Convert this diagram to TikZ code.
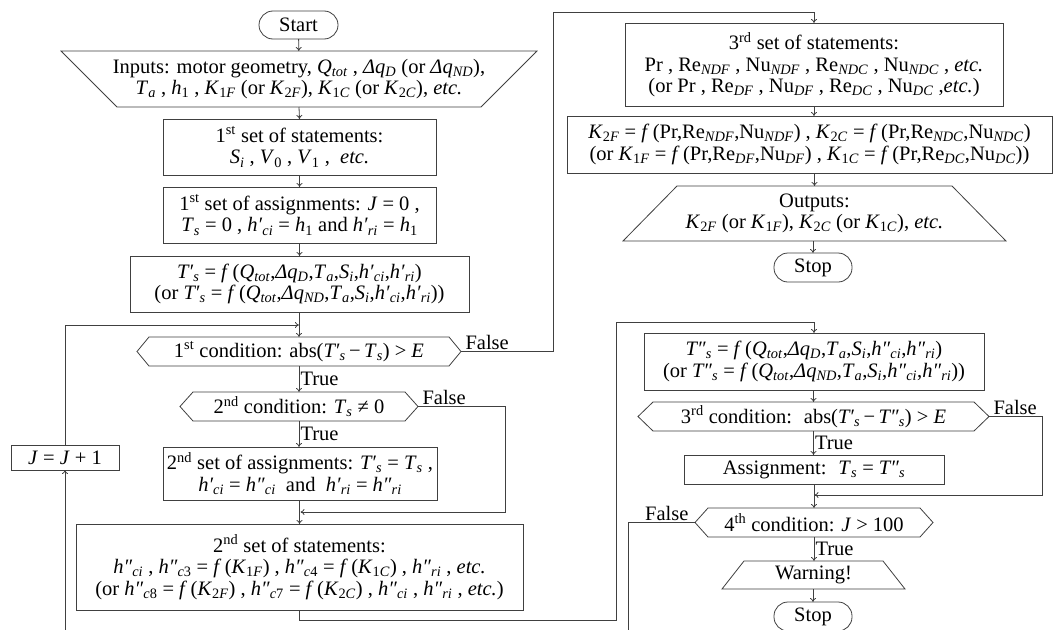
\documentclass[tikz,border=0pt]{standalone}
\usepackage{fontspec}
\setmainfont{Liberation Serif}
\usetikzlibrary{arrows.meta,calc}
\newcommand{\I}[1]{\textit{#1}}
\newcommand{\sub}[1]{\textsubscript{#1}}
\newcommand{\sups}[1]{\textsuperscript{#1}}
\newcommand{\drawhex}[2]{\draw[line] (#1.west) -- ($(#1.north west)+(#2,0)$) -- ($(#1.north east)+(-#2,0)$) -- (#1.east) -- ($(#1.south east)+(-#2,0)$) -- ($(#1.south west)+(#2,0)$) -- cycle;}
\newcommand{\drawinv}[2]{\draw[line] (#1.north west) -- (#1.north east) -- ($(#1.south east)+(-#2,0)$) -- ($(#1.south west)+(#2,0)$) -- cycle;}
\newcommand{\drawtrap}[2]{\draw[line] ($(#1.north west)+(#2,0)$) -- ($(#1.north east)+(-#2,0)$) -- (#1.south east) -- (#1.south west) -- cycle;}
\begin{document}
\begin{tikzpicture}[x=1pt,y=-1pt,
  line/.style={draw=black!75, line width=0.8pt},
  arr/.style={line, -{To[length=4pt,width=6pt]}},
  every node/.style={font=\fontsize{20.5}{21.5}\selectfont, inner sep=0pt, outer sep=0pt, align=center},
  pbox/.style={line, rectangle},
  term/.style={line, rectangle, rounded corners=14pt},
  free/.style={rectangle},
  lab/.style={inner sep=1.5pt}
]
\fill[white] (0,0) rectangle (1054,629);
\useasboundingbox (0,0) rectangle (1054,629);

% left column
\node[term, minimum width=79pt, minimum height=28pt] (start) at (298.5,25) {Start};
\node[free, minimum width=476pt, minimum height=56pt] (in) at (299,79)
  {Inputs: motor geometry, \I{Q}\sub{\I{tot}} , \I{Δq}\sub{\I{D}} (or \I{Δq}\sub{\I{ND}}),\\
   \I{T}\sub{\I{a}} , \I{h}\sub{1} , \I{K}\sub{1\I{F}} (or \I{K}\sub{2\I{F}}), \I{K}\sub{1\I{C}} (or \I{K}\sub{2\I{C}}), \I{etc.}};
\drawinv{in}{56}
\node[pbox, minimum width=273pt, minimum height=56pt] (s1) at (299.5,147)
  {1\sups{st} set of statements:\\ \I{S}\sub{\I{i}} , \I{V}\sub{0} , \I{V}\sub{1} , \ \I{etc.}};
\node[pbox, minimum width=273pt, minimum height=56pt] (a1) at (299.5,215)
  {1\sups{st} set of assignments: \I{J} = 0 ,\\ \I{T}\sub{\I{s}} = 0 , \I{h′}\sub{\I{ci}} = \I{h}\sub{1} and \I{h′}\sub{\I{ri}} = \I{h}\sub{1}};
\node[pbox, minimum width=339pt, minimum height=56pt] (tp) at (299.5,284)
  {\I{T′}\sub{\I{s}} = \I{f}\,(\I{Q}\sub{\I{tot}},\I{Δq}\sub{\I{D}},\I{T}\sub{\I{a}},\I{S}\sub{\I{i}},\I{h′}\sub{\I{ci}},\I{h′}\sub{\I{ri}})\\
   (or \I{T′}\sub{\I{s}} = \I{f}\,(\I{Q}\sub{\I{tot}},\I{Δq}\sub{\I{ND}},\I{T}\sub{\I{a}},\I{S}\sub{\I{i}},\I{h′}\sub{\I{ci}},\I{h′}\sub{\I{ri}}))};
\node[free, minimum width=324pt, minimum height=29pt] (c1) at (299,351.5)
  {1\sups{st} condition: abs(\I{T′}\sub{\I{s}}\,−\,\I{T}\sub{\I{s}}) > \I{E}};
\drawhex{c1}{12}
\node[free, minimum width=238pt, minimum height=29pt] (c2) at (299,406.5)
  {2\sups{nd} condition: \I{T}\sub{\I{s}} ≠ 0};
\drawhex{c2}{13}
\node[pbox, minimum width=274pt, minimum height=53pt] (a2) at (300,473.5)
  {2\sups{nd} set of assignments: \I{T′}\sub{\I{s}} = \I{T}\sub{\I{s}} ,\\ \I{h′}\sub{\I{ci}} = \I{h″}\sub{\I{ci}} \ and \ \I{h′}\sub{\I{ri}} = \I{h″}\sub{\I{ri}}};
\node[pbox, minimum width=447pt, minimum height=86pt] (s2) at (299.5,567)
  {2\sups{nd} set of statements:\\
   \I{h″}\sub{\I{ci}} , \I{h″}\sub{\I{c}3} = \I{f}\,(\I{K}\sub{1\I{F}}) , \I{h″}\sub{\I{c}4} = \I{f}\,(\I{K}\sub{1\I{C}}) , \I{h″}\sub{\I{ri}} , \I{etc.}\\
   (or \I{h″}\sub{\I{c}8} = \I{f}\,(\I{K}\sub{2\I{F}}) , \I{h″}\sub{\I{c}7} = \I{f}\,(\I{K}\sub{2\I{C}}) , \I{h″}\sub{\I{ci}} , \I{h″}\sub{\I{ri}} , \I{etc.})};
\node[pbox, minimum width=108pt, minimum height=25pt] (jj) at (65,457.5) {\I{J} = \I{J} + 1};

% right column
\node[pbox, minimum width=378pt, minimum height=83pt] (s3) at (814,64.5)
  {3\sups{rd} set of statements:\\
   Pr , Re\sub{\I{NDF}} , Nu\sub{\I{NDF}} , Re\sub{\I{NDC}} , Nu\sub{\I{NDC}} , \I{etc.}\\
   (or Pr , Re\sub{\I{DF}} , Nu\sub{\I{DF}} , Re\sub{\I{DC}} , Nu\sub{\I{DC}} ,\I{etc.})};
\node[pbox, minimum width=485pt, minimum height=57pt] (kb) at (809.5,144.5)
  {\I{K}\sub{2\I{F}} = \I{f}\,(Pr,Re\sub{\I{NDF}},Nu\sub{\I{NDF}}) , \I{K}\sub{2\I{C}} = \I{f}\,(Pr,Re\sub{\I{NDC}},Nu\sub{\I{NDC}})\\
   (or \I{K}\sub{1\I{F}} = \I{f}\,(Pr,Re\sub{\I{DF}},Nu\sub{\I{DF}}) , \I{K}\sub{1\I{C}} = \I{f}\,(Pr,Re\sub{\I{DC}},Nu\sub{\I{DC}}))};
\node[free, minimum width=383pt, minimum height=55pt] (out) at (814.5,213.5)
  {Outputs:\\ \I{K}\sub{2\I{F}} (or \I{K}\sub{1\I{F}}), \I{K}\sub{2\I{C}} (or \I{K}\sub{1\I{C}}), \I{etc.}};
\drawtrap{out}{54}
\node[term, minimum width=78pt, minimum height=29pt] (stop1) at (813,267.5) {Stop};
\node[pbox, minimum width=340pt, minimum height=57pt] (tpp) at (814,361.5)
  {\I{T″}\sub{\I{s}} = \I{f}\,(\I{Q}\sub{\I{tot}},\I{Δq}\sub{\I{D}},\I{T}\sub{\I{a}},\I{S}\sub{\I{i}},\I{h″}\sub{\I{ci}},\I{h″}\sub{\I{ri}})\\
   (or \I{T″}\sub{\I{s}} = \I{f}\,(\I{Q}\sub{\I{tot}},\I{Δq}\sub{\I{ND}},\I{T}\sub{\I{a}},\I{S}\sub{\I{i}},\I{h″}\sub{\I{ci}},\I{h″}\sub{\I{ri}}))};
\node[free, minimum width=351pt, minimum height=29pt] (c3) at (813.5,416.5)
  {3\sups{rd} condition: \ abs(\I{T′}\sub{\I{s}}\,−\,\I{T″}\sub{\I{s}}) > \I{E}};
\drawhex{c3}{15}
\node[pbox, minimum width=260pt, minimum height=29pt] (asg) at (814,469.5)
  {Assignment: \ \I{T}\sub{\I{s}} = \I{T″}\sub{\I{s}}};
\node[free, minimum width=238pt, minimum height=29pt] (c4) at (814,522.5)
  {4\sups{th} condition: \I{J} > 100};
\drawhex{c4}{13}
\node[free, minimum width=183pt, minimum height=28pt] (warn) at (813.5,575) {Warning!};
\drawtrap{warn}{22}
\node[term, minimum width=78pt, minimum height=29pt] (stop2) at (813,616.5) {Stop};

% helper coordinates
\coordinate (j1) at (299,325);
\coordinate (m2) at (300.5,512);
\coordinate (m3) at (814.5,495);
\coordinate (f4) at (628,640);
\coordinate (jb) at (65,640);

% connectors
\draw[arr] (start) -- (in);
\draw[arr] (in.south) -- (s1.north);
\draw[arr] (s1) -- (a1);
\draw[arr] (a1) -- (tp);
\draw[arr] (tp.south -| c1.north) -- (c1.north);
\draw[arr] (jj.north) |- (j1);
\draw[arr] (c1.south) -- node[right,lab] {True} (c2.north);
\draw[arr] (c1.east) -| (553,12) -| (s3.north);
\node[lab, anchor=south west] at ($(c1.east)+(3,0)$) {False};
\draw[arr] (c2.south) -- node[right,lab] {True} (c2.south |- a2.north);
\draw[arr] (c2.east) -| (505,512) -- (m2);
\node[lab, anchor=south west] at ($(c2.east)+(3,0)$) {False};
\draw[arr] (a2.south -| s2.north) -- (s2.north);
\draw[arr] (s2.south) |- (616,620) -- (616,322) -| (tpp.north);
\draw[arr] (jb) -- (jj.south);

\draw[arr] (s3.south) -- (s3.south |- kb.north);
\draw[arr] (kb.south -| out.north) -- (out.north);
\draw[arr] (out.south -| stop1.north) -- (stop1.north);
\draw[arr] (tpp.south -| c3.north) -- (c3.north);
\draw[arr] (c3.south) -- node[right,lab] {True} (c3.south |- asg.north);
\draw[arr] (c3.east) -| (1042,495) -- (m3);
\node[lab, anchor=south west] at ($(c3.east)+(3,0)$) {False};
\draw[arr] (asg.south -| c4.north) -- (c4.north);
\draw[line] (c4.west) -| (f4);
\node[lab, anchor=south east] at ($(c4.west)+(-5,0)$) {False};
\draw[arr] (c4.south) -- node[right,lab] {True} (c4.south |- warn.north);
\draw[arr] (warn.south -| stop2.north) -- (stop2.north);
\end{tikzpicture}
\end{document}
